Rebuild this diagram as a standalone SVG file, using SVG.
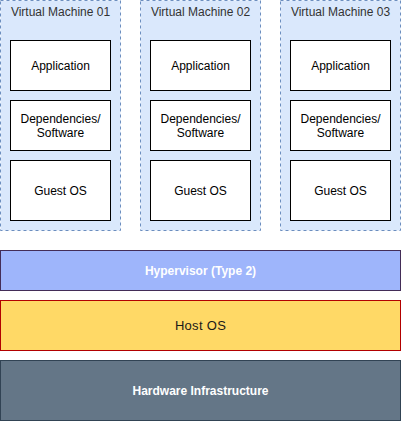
<svg xmlns="http://www.w3.org/2000/svg" width="401" height="421" viewBox="0 0 401 421">
<style>
.vm{fill:#dae8fc;stroke:#6c8ebf;stroke-dasharray:3 3}
.box{fill:#ffffff;stroke:#000000}
text{font-family:"Liberation Sans",Arial,sans-serif;font-size:12px;text-anchor:middle}
.t{fill:#333333}
.b{font-weight:bold}
</style>
<rect width="401" height="421" fill="#ffffff"/>
<g id="vm1">
<rect class="vm" x="0.5" y="0.5" width="120" height="230"/>
<text class="t" x="60.5" y="16">Virtual Machine 01</text>
<rect class="box" x="10.5" y="40.5" width="100" height="50"/>
<text x="60.5" y="70">Application</text>
<rect class="box" x="10.5" y="100.5" width="100" height="50"/>
<text x="60.5" y="123">Dependencies/</text>
<text x="60.5" y="137">Software</text>
<rect class="box" x="10.5" y="160.5" width="100" height="60"/>
<text x="60.5" y="195">Guest OS</text>
</g>
<g id="vm2">
<rect class="vm" x="140.5" y="0.5" width="120" height="230"/>
<text class="t" x="200.5" y="16">Virtual Machine 02</text>
<rect class="box" x="150.5" y="40.5" width="100" height="50"/>
<text x="200.5" y="70">Application</text>
<rect class="box" x="150.5" y="100.5" width="100" height="50"/>
<text x="200.5" y="123">Dependencies/</text>
<text x="200.5" y="137">Software</text>
<rect class="box" x="150.5" y="160.5" width="100" height="60"/>
<text x="200.5" y="195">Guest OS</text>
</g>
<g id="vm3">
<rect class="vm" x="280.5" y="0.5" width="120" height="230"/>
<text class="t" x="340.5" y="16">Virtual Machine 03</text>
<rect class="box" x="290.5" y="40.5" width="100" height="50"/>
<text x="340.5" y="70">Application</text>
<rect class="box" x="290.5" y="100.5" width="100" height="50"/>
<text x="340.5" y="123">Dependencies/</text>
<text x="340.5" y="137">Software</text>
<rect class="box" x="290.5" y="160.5" width="100" height="60"/>
<text x="340.5" y="195">Guest OS</text>
</g>
<g id="hypervisor">
<rect x="0.5" y="250.5" width="400" height="40" fill="#9eb5fb" stroke="#432d57"/>
<text class="b" x="200.5" y="275" fill="#ffffff">Hypervisor (Type 2)</text>
</g>
<g id="hostos">
<rect x="0.5" y="300.5" width="400" height="50" fill="#ffd966" stroke="#b20000"/>
<text x="200.5" y="330" fill="#1a1a1a" style="font-size:13px;letter-spacing:0.3px">Host OS</text>
</g>
<g id="hardware">
<rect x="0.5" y="360.5" width="400" height="60" fill="#647687" stroke="#314354"/>
<text class="b" x="200.5" y="395" fill="#ffffff">Hardware Infrastructure</text>
</g>
<g id="connectors"/>
</svg>
